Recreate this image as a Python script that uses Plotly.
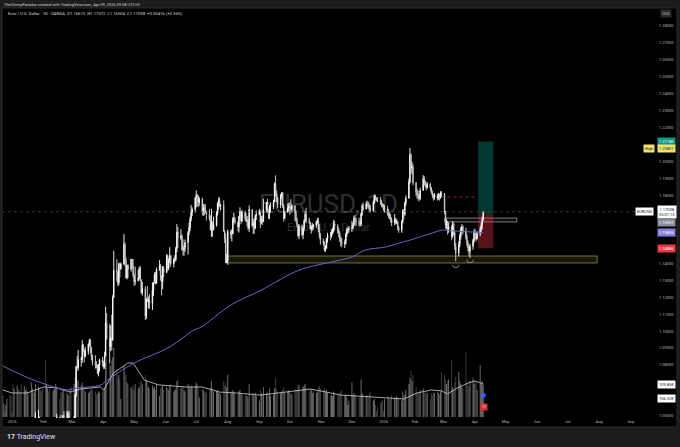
"""EUR/USD daily chart (OANDA) - TradingView style screenshot rebuilt in Plotly."""

import pandas as pd
import plotly.graph_objects as go

# ---- daily candles, one row per trading week (Dec 23 2024 .. Apr 9 2026) ----
first_open = 1.0430

closes = [
    1.0406, 1.0407, 1.0402, 1.0422, 1.0428,
    1.0406, 1.0354, 1.0352, 1.0266, 1.0307,
    1.0390, 1.0342, 1.0318, 1.0300, 1.0244,
    1.0245, 1.0308, 1.0290, 1.0300, 1.0272,
    1.0417, 1.0431, 1.0408, 1.0413, 1.0494,
    1.0494, 1.0430, 1.0422, 1.0390, 1.0362,
    1.0344, 1.0378, 1.0403, 1.0383, 1.0329,
    1.0307, 1.0361, 1.0383, 1.0466, 1.0491,
    1.0483, 1.0447, 1.0421, 1.0501, 1.0459,
    1.0467, 1.0514, 1.0487, 1.0399, 1.0375,
    1.0483, 1.0625, 1.0791, 1.0785, 1.0833,
    1.0834, 1.0918, 1.0887, 1.0852, 1.0881,
    1.0923, 1.0945, 1.0899, 1.0853, 1.0816,
    1.0802, 1.0792, 1.0753, 1.0799, 1.0831,
    1.0815, 1.0790, 1.0852, 1.1050, 1.0960,
    1.0908, 1.0959, 1.0950, 1.1198, 1.1359,
    1.1350, 1.1285, 1.1398, 1.1370, 1.1395,
    1.1512, 1.1420, 1.1313, 1.1389, 1.1365,
    1.1424, 1.1385, 1.1328, 1.1293, 1.1297,
    1.1314, 1.1370, 1.1300, 1.1226, 1.1250,
    1.1088, 1.1187, 1.1175, 1.1186, 1.1163,
    1.1241, 1.1284, 1.1330, 1.1282, 1.1364,
    1.1386, 1.1325, 1.1290, 1.1372, 1.1346,
    1.1443, 1.1372, 1.1418, 1.1445, 1.1397,
    1.1420, 1.1423, 1.1487, 1.1585, 1.1550,
    1.1561, 1.1481, 1.1480, 1.1495, 1.1523,
    1.1580, 1.1611, 1.1663, 1.1700, 1.1718,
    1.1787, 1.1804, 1.1798, 1.1760, 1.1778,
    1.1709, 1.1725, 1.1718, 1.1702, 1.1690,
    1.1663, 1.1598, 1.1640, 1.1598, 1.1626,
    1.1693, 1.1752, 1.1771, 1.1741, 1.1743,
    1.1589, 1.1545, 1.1403, 1.1415, 1.1588,
    1.1572, 1.1574, 1.1660, 1.1664, 1.1642,
    1.1615, 1.1676, 1.1705, 1.1648, 1.1702,
    1.1663, 1.1647, 1.1650, 1.1608, 1.1717,
    1.1622, 1.1641, 1.1608, 1.1680, 1.1686,
    1.1708, 1.1642, 1.1660, 1.1646, 1.1717,
    1.1760, 1.1707, 1.1695, 1.1732, 1.1733,
    1.1762, 1.1870, 1.1814, 1.1787, 1.1745,
    1.1802, 1.1815, 1.1737, 1.1665, 1.1702,
    1.1725, 1.1735, 1.1732, 1.1717, 1.1740,
    1.1710, 1.1658, 1.1628, 1.1564, 1.1617,
    1.1569, 1.1605, 1.1648, 1.1689, 1.1652,
    1.1643, 1.1603, 1.1612, 1.1620, 1.1625,
    1.1645, 1.1653, 1.1600, 1.1565, 1.1535,
    1.1520, 1.1480, 1.1490, 1.1545, 1.1565,
    1.1560, 1.1585, 1.1590, 1.1630, 1.1620,
    1.1595, 1.1580, 1.1545, 1.1530, 1.1515,
    1.1520, 1.1570, 1.1595, 1.1600, 1.1605,
    1.1610, 1.1625, 1.1665, 1.1650, 1.1645,
    1.1640, 1.1630, 1.1690, 1.1740, 1.1720,
    1.1750, 1.1745, 1.1740, 1.1725, 1.1710,
    1.1760, 1.1795, 1.1785, 1.1775, 1.1770,
    1.1765, 1.1745, 1.1740, 1.1720, 1.1720,
    1.1700, 1.1690, 1.1675, 1.1655, 1.1640,
    1.1660, 1.1640, 1.1645, 1.1610, 1.1595,
    1.1645, 1.1710, 1.1690, 1.1755, 1.1785,
    1.1880, 1.2040, 1.1960, 1.1970, 1.1875,
    1.1820, 1.1805, 1.1790, 1.1780, 1.1830,
    1.1900, 1.1880, 1.1860, 1.1850, 1.1865,
    1.1845, 1.1820, 1.1800, 1.1790, 1.1805,
    1.1785, 1.1800, 1.1790, 1.1815, 1.1810,
    1.1700, 1.1625, 1.1640, 1.1600, 1.1615,
    1.1560, 1.1630, 1.1580, 1.1500, 1.1460,
    1.1510, 1.1560, 1.1600, 1.1615, 1.1590,
    1.1555, 1.1520, 1.1490, 1.1470, 1.1500,
    1.1535, 1.1580, 1.1560, 1.1545, 1.1575,
    1.1600, 1.1625, 1.16615, 1.17038,
]

highs = [
    1.0445, 1.0420, 1.0415, 1.0445, 1.0444,
    1.0457, 1.0426, 1.0365, 1.0366, 1.0320,
    1.0437, 1.0415, 1.0357, 1.0322, 1.0313,
    1.0259, 1.0315, 1.0354, 1.0320, 1.0320,
    1.0434, 1.0438, 1.0439, 1.0432, 1.0521,
    1.0534, 1.0494, 1.0434, 1.0467, 1.0408,
    1.0353, 1.0385, 1.0443, 1.0410, 1.0415,
    1.0340, 1.0374, 1.0419, 1.0474, 1.0513,
    1.0490, 1.0506, 1.0461, 1.0505, 1.0528,
    1.0528, 1.0527, 1.0529, 1.0486, 1.0419,
    1.0500, 1.0630, 1.0796, 1.0854, 1.0889,
    1.0848, 1.0947, 1.0925, 1.0893, 1.0906,
    1.0927, 1.0955, 1.0953, 1.0907, 1.0861,
    1.0857, 1.0822, 1.0802, 1.0806, 1.0837,
    1.0847, 1.0824, 1.0878, 1.1144, 1.1107,
    1.1043, 1.1034, 1.1096, 1.1215, 1.1473,
    1.1424, 1.1350, 1.1404, 1.1390, 1.1405,
    1.1573, 1.1524, 1.1434, 1.1390, 1.1394,
    1.1426, 1.1425, 1.1425, 1.1338, 1.1381,
    1.1360, 1.1380, 1.1384, 1.1306, 1.1290,
    1.1264, 1.1196, 1.1266, 1.1204, 1.1219,
    1.1288, 1.1287, 1.1346, 1.1348, 1.1375,
    1.1419, 1.1396, 1.1329, 1.1384, 1.1384,
    1.1455, 1.1451, 1.1428, 1.1495, 1.1448,
    1.1433, 1.1449, 1.1498, 1.1631, 1.1614,
    1.1601, 1.1571, 1.1541, 1.1506, 1.1540,
    1.1590, 1.1641, 1.1675, 1.1744, 1.1730,
    1.1790, 1.1830, 1.1808, 1.1791, 1.1790,
    1.1787, 1.1752, 1.1749, 1.1747, 1.1710,
    1.1718, 1.1683, 1.1721, 1.1648, 1.1676,
    1.1708, 1.1760, 1.1788, 1.1789, 1.1750,
    1.1771, 1.1595, 1.1576, 1.1458, 1.1599,
    1.1598, 1.1600, 1.1673, 1.1699, 1.1673,
    1.1646, 1.1680, 1.1730, 1.1710, 1.1715,
    1.1711, 1.1698, 1.1680, 1.1660, 1.1742,
    1.1720, 1.1660, 1.1667, 1.1690, 1.1713,
    1.1720, 1.1711, 1.1680, 1.1682, 1.1780,
    1.1762, 1.1781, 1.1716, 1.1745, 1.1755,
    1.1775, 1.1878, 1.1919, 1.1829, 1.1790,
    1.1808, 1.1819, 1.1820, 1.1750, 1.1709,
    1.1752, 1.1756, 1.1760, 1.1778, 1.1749,
    1.1728, 1.1712, 1.1669, 1.1630, 1.1630,
    1.1628, 1.1615, 1.1660, 1.1707, 1.1728,
    1.1668, 1.1644, 1.1626, 1.1639, 1.1630,
    1.1650, 1.1668, 1.1668, 1.1630, 1.1580,
    1.1545, 1.1530, 1.1505, 1.1550, 1.1580,
    1.1585, 1.1600, 1.1610, 1.1655, 1.1650,
    1.1630, 1.1610, 1.1590, 1.1560, 1.1550,
    1.1540, 1.1580, 1.1610, 1.1610, 1.1620,
    1.1650, 1.1640, 1.1680, 1.1685, 1.1670,
    1.1670, 1.1655, 1.1700, 1.1750, 1.1760,
    1.1765, 1.1770, 1.1765, 1.1755, 1.1745,
    1.1770, 1.1805, 1.1805, 1.1790, 1.1790,
    1.1790, 1.1775, 1.1755, 1.1750, 1.1745,
    1.1740, 1.1720, 1.1700, 1.1690, 1.1670,
    1.1690, 1.1670, 1.1660, 1.1650, 1.1620,
    1.1655, 1.1720, 1.1720, 1.1765, 1.1800,
    1.1900, 1.2080, 1.2050, 1.2000, 1.1985,
    1.1880, 1.1840, 1.1830, 1.1810, 1.1845,
    1.1920, 1.1915, 1.1890, 1.1875, 1.1880,
    1.1875, 1.1850, 1.1830, 1.1810, 1.1815,
    1.1810, 1.1815, 1.1810, 1.1825, 1.1825,
    1.1815, 1.1710, 1.1660, 1.1650, 1.1640,
    1.1625, 1.1650, 1.1640, 1.1590, 1.1520,
    1.1530, 1.1575, 1.1615, 1.1630, 1.1625,
    1.1610, 1.1570, 1.1535, 1.1510, 1.1515,
    1.1545, 1.1600, 1.1605, 1.1585, 1.1590,
    1.1615, 1.1640, 1.1675, 1.17072,
]

lows = [
    1.0385, 1.0385, 1.0395, 1.0389, 1.0405,
    1.0395, 1.0343, 1.0340, 1.0226, 1.0266,
    1.0305, 1.0330, 1.0272, 1.0290, 1.0215,
    1.0178, 1.0233, 1.0276, 1.0262, 1.0266,
    1.0265, 1.0340, 1.0380, 1.0390, 1.0404,
    1.0453, 1.0420, 1.0384, 1.0367, 1.0342,
    1.0141, 1.0297, 1.0364, 1.0356, 1.0306,
    1.0285, 1.0283, 1.0317, 1.0383, 1.0441,
    1.0445, 1.0442, 1.0400, 1.0420, 1.0444,
    1.0450, 1.0459, 1.0477, 1.0373, 1.0359,
    1.0380, 1.0475, 1.0611, 1.0776, 1.0766,
    1.0791, 1.0812, 1.0876, 1.0814, 1.0845,
    1.0861, 1.0909, 1.0870, 1.0830, 1.0797,
    1.0779, 1.0780, 1.0745, 1.0733, 1.0763,
    1.0790, 1.0777, 1.0777, 1.0851, 1.0947,
    1.0810, 1.0881, 1.0887, 1.0942, 1.1195,
    1.1292, 1.1265, 1.1270, 1.1316, 1.1360,
    1.1392, 1.1384, 1.1312, 1.1305, 1.1313,
    1.1351, 1.1370, 1.1315, 1.1266, 1.1273,
    1.1293, 1.1308, 1.1294, 1.1222, 1.1209,
    1.1065, 1.1071, 1.1172, 1.1133, 1.1132,
    1.1124, 1.1208, 1.1283, 1.1275, 1.1278,
    1.1355, 1.1298, 1.1210, 1.1247, 1.1317,
    1.1343, 1.1356, 1.1360, 1.1402, 1.1380,
    1.1375, 1.1407, 1.1412, 1.1467, 1.1489,
    1.1536, 1.1474, 1.1446, 1.1445, 1.1468,
    1.1452, 1.1565, 1.1590, 1.1647, 1.1679,
    1.1700, 1.1730, 1.1734, 1.1731, 1.1740,
    1.1683, 1.1680, 1.1683, 1.1695, 1.1653,
    1.1652, 1.1593, 1.1556, 1.1557, 1.1594,
    1.1617, 1.1682, 1.1716, 1.1732, 1.1713,
    1.1586, 1.1519, 1.1401, 1.1401, 1.1391,
    1.1545, 1.1529, 1.1573, 1.1640, 1.1629,
    1.1589, 1.1582, 1.1662, 1.1630, 1.1647,
    1.1652, 1.1645, 1.1618, 1.1595, 1.1585,
    1.1615, 1.1574, 1.1574, 1.1601, 1.1655,
    1.1683, 1.1608, 1.1630, 1.1626, 1.1643,
    1.1701, 1.1699, 1.1661, 1.1662, 1.1700,
    1.1720, 1.1760, 1.1796, 1.1761, 1.1727,
    1.1725, 1.1780, 1.1727, 1.1646, 1.1660,
    1.1698, 1.1706, 1.1686, 1.1696, 1.1700,
    1.1650, 1.1640, 1.1611, 1.1554, 1.1542,
    1.1558, 1.1542, 1.1591, 1.1643, 1.1635,
    1.1631, 1.1598, 1.1576, 1.1592, 1.1598,
    1.1610, 1.1629, 1.1583, 1.1547, 1.1510,
    1.1505, 1.1470, 1.1468, 1.1487, 1.1522,
    1.1535, 1.1550, 1.1570, 1.1580, 1.1600,
    1.1575, 1.1555, 1.1525, 1.1500, 1.1495,
    1.1490, 1.1510, 1.1555, 1.1575, 1.1580,
    1.1585, 1.1600, 1.1620, 1.1630, 1.1620,
    1.1620, 1.1615, 1.1620, 1.1680, 1.1710,
    1.1720, 1.1730, 1.1720, 1.1700, 1.1700,
    1.1705, 1.1750, 1.1770, 1.1765, 1.1760,
    1.1745, 1.1730, 1.1730, 1.1710, 1.1700,
    1.1680, 1.1665, 1.1660, 1.1640, 1.1620,
    1.1625, 1.1630, 1.1630, 1.1595, 1.1580,
    1.1580, 1.1635, 1.1660, 1.1680, 1.1740,
    1.1780, 1.1870, 1.1935, 1.1925, 1.1860,
    1.1795, 1.1780, 1.1770, 1.1765, 1.1775,
    1.1830, 1.1860, 1.1845, 1.1830, 1.1840,
    1.1830, 1.1810, 1.1785, 1.1770, 1.1775,
    1.1770, 1.1775, 1.1770, 1.1780, 1.1790,
    1.1690, 1.1605, 1.1600, 1.1570, 1.1580,
    1.1535, 1.1550, 1.1565, 1.1480, 1.1412,
    1.1440, 1.1495, 1.1540, 1.1580, 1.1570,
    1.1540, 1.1500, 1.1470, 1.1445, 1.1432,
    1.1480, 1.1520, 1.1535, 1.1530, 1.1540,
    1.1560, 1.1585, 1.1600, 1.16504,
]

# volume in thousands
volumes = [
    70, 45, 20, 40, 60,
    75, 70, 15, 110, 95,
    105, 95, 90, 80, 110,
    105, 90, 100, 85, 75,
    115, 95, 80, 85, 110,
    100, 95, 90, 85, 95,
    190, 110, 95, 85, 100,
    85, 90, 95, 110, 100,
    60, 85, 80, 90, 95,
    80, 75, 70, 95, 100,
    110, 130, 150, 125, 120,
    105, 115, 95, 90, 85,
    80, 85, 90, 95, 90,
    85, 75, 80, 85, 80,
    85, 90, 95, 180, 200,
    210, 170, 190, 200, 230,
    160, 130, 140, 125, 60,
    170, 150, 140, 115, 110,
    100, 95, 105, 90, 110,
    95, 100, 115, 120, 110,
    140, 120, 115, 100, 95,
    105, 95, 100, 90, 110,
    70, 95, 100, 105, 90,
    100, 95, 90, 105, 110,
    85, 90, 95, 120, 125,
    95, 100, 105, 90, 85,
    110, 100, 95, 105, 100,
    105, 115, 110, 100, 65,
    95, 90, 85, 80, 85,
    90, 100, 120, 95, 85,
    85, 90, 80, 85, 75,
    120, 105, 115, 100, 140,
    85, 80, 90, 85, 75,
    75, 85, 90, 80, 75,
    70, 75, 70, 65, 110,
    80, 75, 70, 80, 70,
    55, 90, 80, 75, 100,
    80, 85, 75, 95, 70,
    75, 95, 130, 95, 85,
    80, 85, 90, 100, 80,
    85, 90, 85, 80, 75,
    90, 95, 90, 110, 105,
    95, 100, 105, 110, 95,
    85, 95, 90, 80, 85,
    80, 85, 100, 105, 95,
    90, 95, 85, 90, 80,
    70, 75, 70, 85, 80,
    70, 75, 80, 85, 90,
    70, 75, 65, 40, 55,
    115, 70, 80, 75, 70,
    65, 70, 125, 80, 75,
    70, 75, 65, 80, 85,
    55, 60, 40, 20, 35,
    45, 50, 55, 20, 60,
    70, 65, 60, 65, 75,
    65, 60, 70, 65, 60,
    55, 85, 70, 75, 90,
    110, 130, 155, 120, 140,
    100, 85, 80, 75, 90,
    95, 80, 85, 75, 80,
    60, 80, 75, 85, 80,
    85, 80, 75, 85, 150,
    140, 125, 110, 120, 125,
    190, 100, 95, 115, 135,
    150, 120, 110, 100, 95,
    215, 115, 105, 100, 120,
    130, 110, 120, 115, 90,
    173, 110, 120, 106,
]

# 200-day moving average (blue) and volume average (white)
ma_dates = ["2024-12-23", "2025-01-22", "2025-02-24", "2025-03-06", "2025-03-29",
            "2025-04-05", "2025-05-01", "2025-06-03", "2025-06-29", "2025-07-06",
            "2025-08-04", "2025-09-03", "2025-10-10", "2025-11-11", "2025-12-01",
            "2025-12-14", "2026-01-03", "2026-01-17", "2026-01-27", "2026-02-18",
            "2026-02-28", "2026-03-10", "2026-04-09"]
ma_values = [1.0794, 1.0712, 1.0653, 1.0664, 1.0682, 1.0712, 1.0812, 1.0900, 1.1007,
             1.1024, 1.1154, 1.1242, 1.1360, 1.1408, 1.1437, 1.1478, 1.1496, 1.1520,
             1.1537, 1.1579, 1.1596, 1.1591, 1.1581]

vol_ma_dates = ["2024-12-23", "2025-01-01", "2025-01-16", "2025-02-01", "2025-02-14",
                "2025-02-27", "2025-03-09", "2025-03-29", "2025-04-01", "2025-04-11",
                "2025-04-25", "2025-04-30", "2025-05-11", "2025-05-25", "2025-06-20",
                "2025-07-07", "2025-07-24", "2025-08-09", "2025-09-02", "2025-09-27",
                "2025-10-21", "2025-11-06", "2025-11-20", "2025-12-20", "2026-01-21",
                "2026-02-03", "2026-02-17", "2026-02-27", "2026-03-05", "2026-03-15",
                "2026-03-25", "2026-04-01", "2026-04-07", "2026-04-09"]
vol_ma_values = [90, 80, 80, 100, 97, 83, 93, 100, 90, 147, 180, 180, 123, 107, 100,
                 100, 83, 80, 73, 83, 93, 83, 73, 67, 60, 80, 90, 87, 77, 97, 113,
                 120, 113, 110]

# drawings on the chart
zone_start, zone_end = "2025-08-01", "2026-07-30"
zone_low, zone_high = 1.1402, 1.1443
box_start, box_end = "2026-03-02", "2026-05-12"
box_low, box_high = 1.1644, 1.1667
level_start, level_end, level_price = "2026-02-27", "2026-04-01", 1.1791
pos_start, pos_end = "2026-04-04", "2026-04-19"
pos_entry, pos_target, pos_stop = 1.16907, 1.21180, 1.14886
high_mark = 1.20801
arc_dates = ["2026-03-13", "2026-03-27"]
arc_prices = [1.1391, 1.1422]

month_labels = ["2025", "Feb", "Mar", "Apr", "May", "Jun", "Jul", "Aug", "Sep", "Oct",
                "Nov", "Dec", "2026", "Feb", "Mar", "Apr", "May", "Jun", "Jul", "Aug", "Sep"]
price_ticks = [1.05, 1.08, 1.09, 1.10, 1.11, 1.12, 1.13, 1.14,
               1.18, 1.19, 1.20, 1.22, 1.23, 1.24, 1.25, 1.26, 1.27, 1.28]

dates = pd.bdate_range("2024-12-23", "2026-04-09")
opens = [first_open] + closes[:-1]
highs = [max(h, o, c) for h, o, c in zip(highs, opens, closes)]
lows = [min(l, o, c) for l, o, c in zip(lows, opens, closes)]
vol_colors = ["rgba(255,255,255,0.50)" if c >= o else "rgba(255,255,255,0.28)"
              for o, c in zip(opens, closes)]
month_starts = pd.date_range("2025-01-01", periods=len(month_labels), freq="MS")

FONT = "Roboto"
fig = go.Figure()

fig.add_trace(go.Bar(x=dates, y=volumes, marker=dict(color=vol_colors, line_width=0),
                     yaxis="y", hoverinfo="skip"))
fig.add_trace(go.Scatter(x=vol_ma_dates, y=vol_ma_values, mode="lines",
                         line=dict(color="#cfcfcf", width=0.8), yaxis="y"))
fig.add_trace(go.Scatter(x=ma_dates, y=ma_values, mode="lines", line_shape="spline",
                         line=dict(color="#6466c8", width=1), yaxis="y2"))
fig.add_trace(go.Candlestick(
    x=dates, open=opens, high=highs, low=lows, close=closes, yaxis="y2",
    increasing=dict(line=dict(color="#ffffff", width=0.9), fillcolor="#ffffff"),
    decreasing=dict(line=dict(color="#d6d6d6", width=0.9), fillcolor="#000000"),
    whiskerwidth=0,
))
fig.add_trace(go.Scatter(x=arc_dates, y=arc_prices, mode="text", text=["◡", "◡"],
                         textfont=dict(family="DejaVu Sans", size=9, color="#bdbdbd"),
                         yaxis="y2"))

shapes = [
    # black chart pane behind everything
    dict(type="rect", xref="paper", yref="paper", x0=0, x1=1.0337, y0=-0.0224, y1=1.0224,
         fillcolor="#000000", line=dict(color="#2c2c2c", width=1), layer="below"),
    dict(type="line", xref="paper", yref="y2", x0=0, x1=1, y0=closes[-1], y1=closes[-1],
         line=dict(color="#4a4a4a", width=0.7, dash="dot")),
    dict(type="rect", xref="x", yref="y2", x0=zone_start, x1=zone_end, y0=zone_low,
         y1=zone_high, fillcolor="rgba(140,138,60,0.18)",
         line=dict(color="#8c8a44", width=0.8), layer="below"),
    dict(type="rect", xref="x", yref="y2", x0=box_start, x1=box_end, y0=box_low,
         y1=box_high, fillcolor="rgba(255,255,255,0.05)",
         line=dict(color="#a8a8a8", width=0.7), layer="below"),
    dict(type="line", xref="x", yref="y2", x0=level_start, x1=level_end, y0=level_price,
         y1=level_price, line=dict(color="#b03030", width=0.8, dash="dot")),
    dict(type="rect", xref="x", yref="y2", x0=pos_start, x1=pos_end, y0=pos_entry,
         y1=pos_target, fillcolor="rgba(8,153,129,0.36)", line_width=0, layer="below"),
    dict(type="rect", xref="x", yref="y2", x0=pos_start, x1=pos_end, y0=pos_stop,
         y1=pos_entry, fillcolor="rgba(242,54,69,0.36)", line_width=0, layer="below"),
]


def price_tag(text, y, bg, color="#ffffff", yref="y2", x=1.0031, xanchor="left"):
    return dict(text=text, x=x, y=y, xref="paper", yref=yref, xanchor=xanchor,
                yanchor="middle", showarrow=False, bgcolor=bg, borderpad=1,
                font=dict(family=FONT, size=4, color=color))


annotations = [
    dict(text="TheChimpParadox created with TradingView.com, Apr 09, 2026 09:58 UTC+3",
         x=0, y=1.0324, xref="paper", yref="paper", xanchor="left", yanchor="middle",
         showarrow=False, font=dict(family=FONT, size=4, color="#cfcfcf")),
    dict(text="Euro / U.S. Dollar · 1D · OANDA  O1.16615  H1.17072  L1.16504  "
              "C1.17038  +0.00416 (+0.36%)",
         x=0.006, y=1.0075, xref="paper", yref="paper", xanchor="left", yanchor="middle",
         showarrow=False, font=dict(family=FONT, size=4.2, color="#d1d4dc")),
    dict(text="EURUSD, 1D", x=0.5, y=0.5337, xref="paper", yref="paper",
         showarrow=False, font=dict(family=FONT, size=26, color="rgba(255,255,255,0.2)")),
    dict(text="Euro / U.S. Dollar", x=0.5, y=0.4763, xref="paper", yref="paper",
         showarrow=False, font=dict(family=FONT, size=11, color="rgba(255,255,255,0.2)")),
    dict(text="<b>17</b> TradingView", x=0.005, y=-0.0474, xref="paper", yref="paper",
         xanchor="left", yanchor="middle", showarrow=False,
         font=dict(family=FONT, size=7, color="#e0e0e0")),
    price_tag("USD", 1.0075, "#2a2a2a", "#b2b5be", yref="paper", x=1.0168,
              xanchor="center"),
    price_tag("1.21180", pos_target, "#089981"),
    price_tag("1.20801", high_mark, "#f2e36b", "#131722"),
    price_tag("High", high_mark, "#f2e36b", "#131722", x=1.0, xanchor="right"),
    price_tag("EURUSD", closes[-1], "#ffffff", "#131722", x=0.9985, xanchor="right"),
    price_tag("1.17038<br>05:01:13", closes[-1], "#ffffff", "#131722"),
    price_tag("1.16907", 1.16378, "#8a8d96"),
    price_tag("1.15806", ma_values[-1], "#8a7fdc"),
    price_tag("1.14886", pos_stop, "#f23645"),
    price_tag("109.85K", 0.0823, "#ffffff", "#131722", yref="paper"),
    price_tag("106.32K", 0.0474, "#ffffff", "#131722", yref="paper"),
    dict(text="●", x="2026-04-09", y=0.0449, xref="x", yref="paper", showarrow=False,
         font=dict(family="DejaVu Sans", size=6, color="#2962ff")),
    dict(text="11", x="2026-04-10", y=0.0175, xref="x", yref="paper", showarrow=False,
         bgcolor="#d8303a", borderpad=1, font=dict(family=FONT, size=3.5, color="#ffffff")),
]

fig.update_layout(
    width=680,
    height=447,
    margin=dict(l=2, r=25, t=17, b=29),
    paper_bgcolor="#1c1c1c",
    plot_bgcolor="#000000",
    showlegend=False,
    font=dict(family=FONT, size=4, color="#b2b5be"),
    shapes=shapes,
    annotations=annotations,
    xaxis=dict(
        type="date",
        range=["2024-12-22 04:00", "2026-09-24 19:00"],
        tickvals=month_starts,
        ticktext=month_labels,
        ticks="",
        showgrid=False,
        zeroline=False,
        showline=False,
        tickfont=dict(family=FONT, size=4, color="#b2b5be"),
        rangeslider=dict(visible=False),
    ),
    yaxis=dict(range=[-3.3, 1332], visible=False, fixedrange=True),
    yaxis2=dict(
        overlaying="y",
        side="right",
        range=[1.04873, 1.28531],
        tickvals=price_ticks,
        tickformat=".5f",
        ticks="",
        ticklabelstandoff=3,
        showgrid=False,
        zeroline=False,
        showline=False,
        tickfont=dict(family=FONT, size=4, color="#b2b5be"),
    ),
)

# the page body has a default 8px margin; drop it so the figure sits at the corner
fig.write_html("out.html",
               config={"displayModeBar": False},
               post_script="document.body.style.margin='0';"
                           "document.body.style.background='#1c1c1c';")
